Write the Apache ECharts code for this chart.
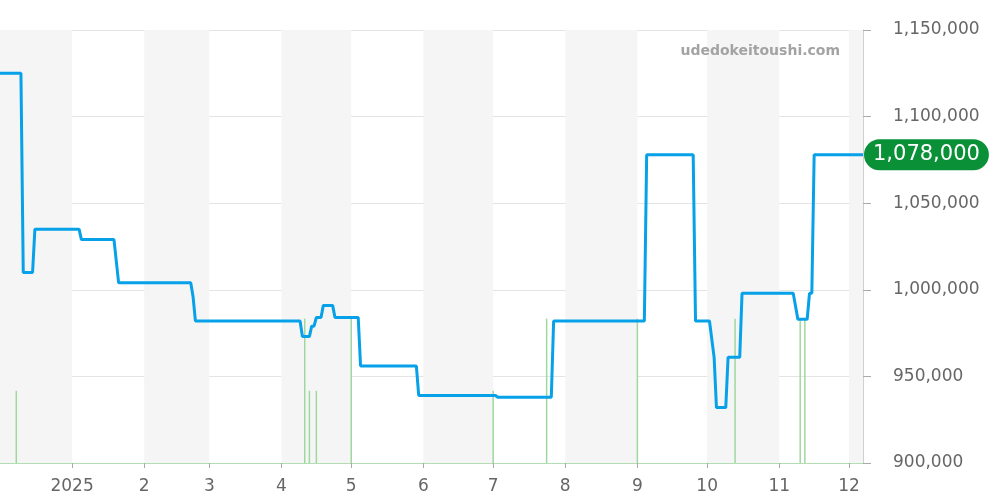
<!DOCTYPE html>
<html><head><meta charset="utf-8">
<script src="https://cdn.jsdelivr.net/npm/echarts@6/dist/echarts.min.js"></script>
<style>html,body{margin:0;padding:0;background:#fff}#c{width:1000px;height:500px}</style>
</head><body><div id="c"></div>
<script>
const priceDates = ['2024-12-01','2024-12-10','2024-12-11','2024-12-15','2024-12-16','2025-01-04','2025-01-05','2025-01-19','2025-01-21','2025-02-21','2025-02-22','2025-02-23','2025-04-09','2025-04-10','2025-04-13','2025-04-14','2025-04-15','2025-04-16','2025-04-18','2025-04-19','2025-04-23','2025-04-24','2025-05-04','2025-05-05','2025-05-29','2025-05-30','2025-07-02','2025-07-03','2025-07-26','2025-07-27','2025-09-04','2025-09-05','2025-09-25','2025-09-26','2025-10-02','2025-10-04','2025-10-05','2025-10-09','2025-10-10','2025-10-15','2025-10-16','2025-11-07','2025-11-09','2025-11-13','2025-11-14','2025-11-15','2025-11-16','2025-12-07'];
const priceValues = [1125000,1125000,1010000,1010000,1035000,1035000,1029000,1029000,1004000,1004000,996000,982000,982000,973000,973000,979000,979000,984000,984000,991000,991000,984000,984000,956000,956000,939000,939000,938000,938000,982000,982000,1078000,1078000,982000,982000,961000,932000,932000,961000,961000,998000,998000,983000,983000,998000,998000,1078000,1078000];
const volumeDates = ['2024-12-08','2025-04-11','2025-04-13','2025-04-16','2025-05-01','2025-07-01','2025-07-24','2025-09-01','2025-10-13','2025-11-10','2025-11-12'];
const volumeValues = [1,2,1,1,2,1,2,2,2,2,2];
const monthTicks = ['2025-01-01','2025-02-01','2025-03-01','2025-04-01','2025-05-01','2025-06-01','2025-07-01','2025-08-01','2025-09-01','2025-10-01','2025-11-01','2025-12-01'];
const monthLabels = ['2025','2','3','4','5','6','7','8','9','10','11','12'];
const shadedMonths = [['2024-12-01','2025-01-01'],['2025-02-01','2025-03-01'],['2025-04-01','2025-05-01'],['2025-06-01','2025-07-01'],['2025-08-01','2025-09-01'],['2025-10-01','2025-11-01'],['2025-12-01','2025-12-07']];
const yTicks = [900000,950000,1000000,1050000,1100000,1150000];
const watermark = 'udedokeitoushi.com';

function ts(s){const p=s.split('-').map(Number);return new Date(p[0],p[1]-1,p[2]).getTime();}
const fmt = v => v.toString().replace(/\B(?=(\d{3})+(?!\d))/g, ',');
const tickTs = monthTicks.map(ts);
const labelMap = {}; tickTs.forEach((t,i)=>labelMap[t]=monthLabels[i]);
const FONT = 'DejaVu Sans';

const chart = echarts.init(document.getElementById('c'), null, {renderer:'canvas'});
chart.setOption({
  animation:false,
  textStyle:{fontFamily:FONT},
  grid:{left:0,right:137,top:30,bottom:37,containLabel:false},
  graphic:[{type:'text',right:160,top:44,z:100,style:{text:watermark,fontFamily:FONT,fontSize:14,fontWeight:'bold',fill:'#a3a3a3'}}],
  xAxis:{type:'value',min:ts(priceDates[0]),max:ts(priceDates[priceDates.length-1]),
    axisLine:{show:true,lineStyle:{color:'#a8dca8',type:'dotted',width:1}},
    axisTick:{show:true,customValues:tickTs,length:5,lineStyle:{color:'#aaa'}},
    axisLabel:{customValues:tickTs,formatter:v=>labelMap[v]||'',fontSize:17,color:'#666',margin:15,fontFamily:FONT},
    splitLine:{show:false}},
  yAxis:[{type:'value',position:'right',min:yTicks[0],max:yTicks[yTicks.length-1],interval:50000,
    axisLine:{show:true,lineStyle:{color:'#d0d0d0'}},
    axisTick:{show:true,length:8,lineStyle:{color:'#aaa'}},
    axisLabel:{formatter:fmt,fontSize:17,color:'#666',margin:30,fontFamily:FONT,padding:[4,0,0,0]},
    splitLine:{show:true,lineStyle:{color:'#e4e4e4'}}},
    {type:'value',min:0,max:6,show:false,splitLine:{show:false}}],
  series:[
    {type:'bar',yAxisIndex:1,barWidth:1.5,itemStyle:{color:'#9fd89f'},
     data:volumeDates.map((d,i)=>[ts(d),volumeValues[i]]),
     markArea:{silent:true,itemStyle:{color:'#f5f5f5'},data:shadedMonths.map(r=>[{xAxis:ts(r[0])},{xAxis:ts(r[1])}])},
     z:1},
    {type:'line',yAxisIndex:0,showSymbol:false,lineStyle:{color:'#06a1e8',width:3},
     data:priceDates.map((d,i)=>[ts(d),priceValues[i]]),z:3,
     endLabel:{show:true,formatter:p=>fmt(p.value[1]),distance:1,color:'#fff',fontSize:21,fontFamily:FONT,
       backgroundColor:'#0a9138',borderRadius:16,padding:[5,9,5,9]}}
  ]
});
</script></body></html>
